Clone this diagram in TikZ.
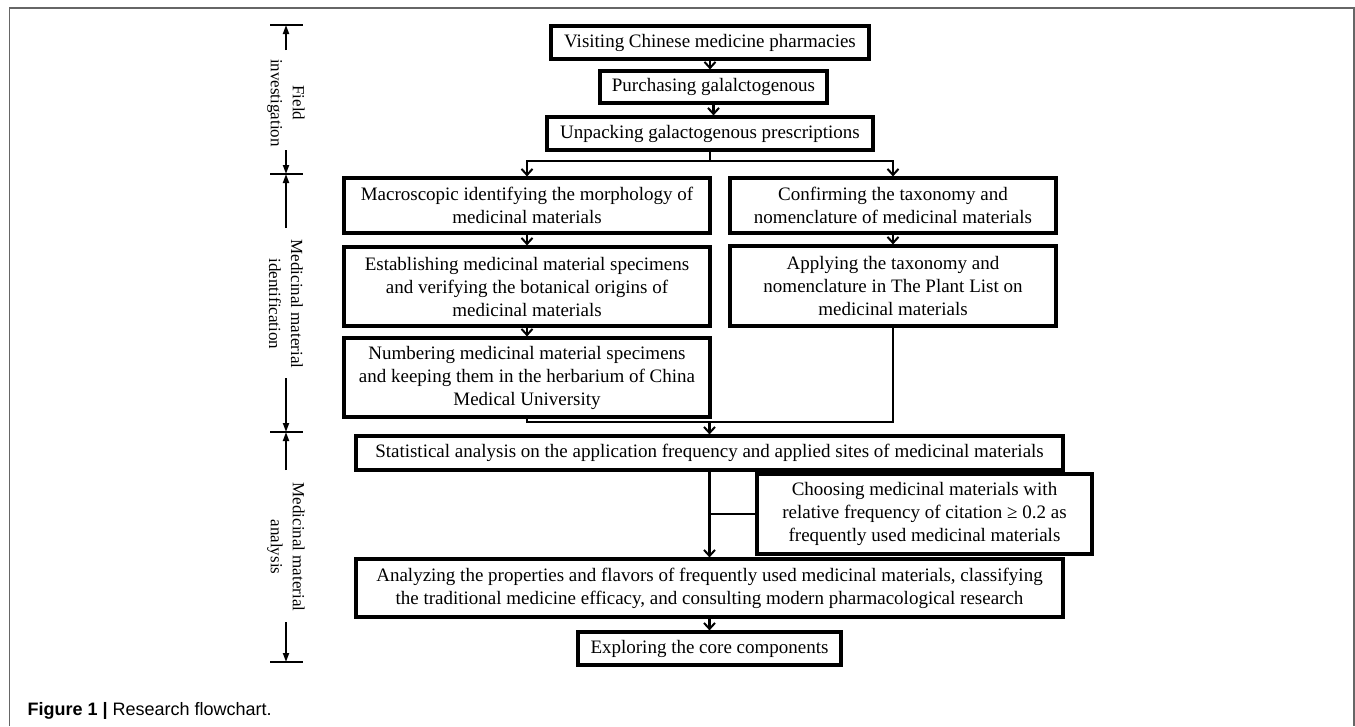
\documentclass[tikz,border=0pt]{standalone}
\usepackage{fontspec}
\setmainfont{Liberation Serif}
\setsansfont{Liberation Sans}
\usetikzlibrary{arrows.meta,calc}

\begin{document}
\begin{tikzpicture}
    [x=1pt, y=-1pt,
     >={Straight Barb[length=6pt, width=11pt, line width=2pt]},  % open arrow heads of the chart
     stepbox/.style={draw, line width=3.2pt, inner sep=0pt, align=center,
                     font=\fontsize{19}{23}\selectfont},
     link/.style={line width=2.2pt},
     span/.style={line width=1.8pt, -{Triangle[length=9pt, width=6pt]}},
     tick/.style={line width=1.8pt},
     phase/.style={rotate=-90, align=center, font=\fontsize{17}{22}\selectfont},
    ]

\useasboundingbox (0,0) rectangle (1355,726);
\draw[draw=gray!80!black, line width=1.5pt] (9.5,726) |- (1354,8) -- (1354,726);

% chart boxes
\node[stepbox, minimum width=318, minimum height=33] (node_visit) at (710,42.5) {Visiting Chinese medicine pharmacies};
\node[stepbox, minimum width=227, minimum height=32] (node_purchase) at (713.5,87) {Purchasing galalctogenous};
\node[stepbox, minimum width=326, minimum height=33] (node_unpack) at (710,133.5) {Unpacking galactogenous prescriptions};
\node[stepbox, minimum width=366, minimum height=55] (node_macro) at (527,205.5) {Macroscopic identifying the morphology of\\medicinal materials};
\node[stepbox, minimum width=366, minimum height=79] (node_establish) at (527,286.5) {Establishing medicinal material specimens\\and verifying the botanical origins of\\medicinal materials};
\node[stepbox, minimum width=366, minimum height=79] (node_number) at (527,377.5) {Numbering medicinal material specimens\\and keeping them in the herbarium of China\\Medical University};
\node[stepbox, minimum width=326, minimum height=55] (node_confirm) at (893,205.5) {Confirming the taxonomy and\\nomenclature of medicinal materials};
\node[stepbox, minimum width=326, minimum height=80] (node_apply) at (893,286) {Applying the taxonomy and\\nomenclature in The Plant List on\\medicinal materials};
\node[stepbox, minimum width=707, minimum height=34] (node_stat) at (709.5,453) {Statistical analysis on the application frequency and applied sites of medicinal materials};
\node[stepbox, minimum width=335, minimum height=80] (node_choose) at (924.5,514) {Choosing medicinal materials with\\relative frequency of citation ≥ 0.2 as\\frequently used medicinal materials};
\node[stepbox, minimum width=707, minimum height=58] (node_analyze) at (709.5,588) {Analyzing the properties and flavors of frequently used medicinal materials, classifying\\the traditional medicine efficacy, and consulting modern pharmacological research};
\node[stepbox, minimum width=263, minimum height=33] (node_explore) at (709.5,648.5) {Exploring the core components};

% connectors
\coordinate (split) at (710,161);
\coordinate (merge) at (709.5,422);
\draw[link,->] (node_visit) -- (node_visit.south |- node_purchase.north);
\draw[link,->] (node_purchase.south) -- (node_purchase.south |- node_unpack.north);
\draw[link] (node_unpack) -- (split);
\draw[link,->] (split) -| (node_macro.north);
\draw[link,->] (split) -| (node_confirm.north);
\draw[link,->] (node_macro) -- (node_establish);
\draw[link,->] (node_establish) -- (node_number);
\draw[link,->] (node_confirm) -- (node_apply);
\draw[link] (node_number.south) |- (merge);
\draw[link] (node_apply.south) |- (merge);
\draw[link,->] (merge) -- (node_stat.north);
\draw[link,->] (node_stat) -- (node_analyze);
\draw[link] (node_stat.south |- node_choose.west) -- (node_choose.west);
\draw[link,->] (node_analyze) -- (node_explore);

% phase bracket on the left
\foreach \y in {25,174,432,662}
    \draw[tick] (270,\y) -- (303,\y);
\node[phase] (node_field) at (286,103) {Field\\investigation};
\node[phase] (node_ident) at (286,304) {Medicinal material\\identification};
\node[phase] (node_analysis) at (286,547) {Medicinal material\\analysis};
\draw[span] (286,50) -- (286,25);
\draw[span] (286,150) -- (286,174);
\draw[span] (286,228) -- (286,174);
\draw[span] (286,378) -- (286,432);
\draw[span] (286,470) -- (286,432);
\draw[span] (286,622) -- (286,662);

\node[anchor=west, font=\sffamily\fontsize{18}{20}\selectfont] (node_caption) at (24,711) {\textbf{Figure 1 |} Research flowchart.};

\end{tikzpicture}
\end{document}
